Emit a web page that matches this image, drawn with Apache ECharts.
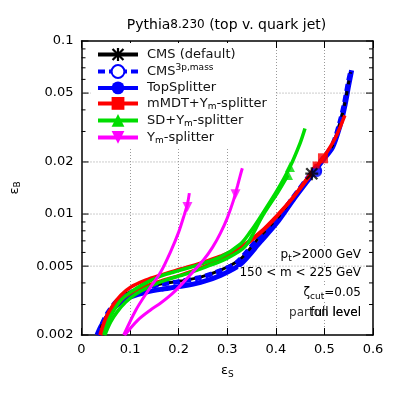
<!DOCTYPE html>
<html>
<head>
<meta charset="utf-8">
<script src="https://cdn.jsdelivr.net/npm/echarts@6.0.0/dist/echarts.min.js"></script>
<style>
html, body { margin: 0; padding: 0; background: #fff; }
#chart { width: 399px; height: 399px; }
</style>
</head>
<body>
<div id="chart"></div>
<script>
const FONT = 'DejaVu Sans'

// ROC curves (x = eps_S, y = eps_B)
const cmsX = [0.036, 0.044, 0.056, 0.071, 0.091, 0.122, 0.163, 0.204, 0.245, 0.286, 0.327, 0.368, 0.403, 0.436, 0.470, 0.495, 0.517, 0.532, 0.542, 0.550, 0.554]
const cmsY = [0.00200, 0.00234, 0.00271, 0.00310, 0.00345, 0.00368, 0.00394, 0.00410, 0.00432, 0.00474, 0.00549, 0.00746, 0.00947, 0.01252, 0.0168, 0.0207, 0.0250, 0.0335, 0.0437, 0.0577, 0.0660]
const cms3pX = [0.035, 0.043, 0.055, 0.070, 0.090, 0.120, 0.160, 0.200, 0.240, 0.280, 0.320, 0.360, 0.400, 0.435, 0.468, 0.494, 0.516, 0.531, 0.541, 0.549, 0.554]
const cms3pY = [0.00200, 0.00233, 0.00270, 0.00308, 0.00343, 0.00366, 0.00391, 0.00407, 0.00427, 0.00463, 0.00526, 0.00702, 0.00915, 0.01240, 0.0165, 0.0205, 0.0248, 0.0332, 0.0433, 0.0572, 0.0665]
const topX = [0.032, 0.040, 0.050, 0.060, 0.081, 0.101, 0.132, 0.163, 0.204, 0.245, 0.286, 0.327, 0.368, 0.403, 0.436, 0.470, 0.495, 0.517, 0.532, 0.542, 0.550, 0.556]
const topY = [0.00200, 0.00224, 0.00248, 0.00273, 0.00310, 0.00332, 0.00353, 0.00367, 0.00382, 0.00403, 0.00442, 0.00512, 0.00690, 0.00896, 0.01210, 0.01620, 0.0202, 0.0244, 0.0323, 0.0421, 0.0556, 0.0677]
const mmdtX = [0.038, 0.050, 0.065, 0.081, 0.101, 0.132, 0.163, 0.204, 0.245, 0.286, 0.327, 0.368, 0.403, 0.436, 0.470, 0.497, 0.522, 0.542]
const mmdtY = [0.00200, 0.00251, 0.00298, 0.00340, 0.00378, 0.00415, 0.00444, 0.00481, 0.00521, 0.00571, 0.00644, 0.00786, 0.00986, 0.01252, 0.0166, 0.0210, 0.0274, 0.0372]
const mmdt2X = [0.040, 0.054, 0.071, 0.091, 0.122, 0.163, 0.204, 0.245, 0.286, 0.327, 0.368, 0.403, 0.436, 0.466, 0.483]
const mmdt2Y = [0.00200, 0.00251, 0.00294, 0.00336, 0.00373, 0.00410, 0.00444, 0.00487, 0.00549, 0.00635, 0.00776, 0.00973, 0.01252, 0.0163, 0.0192]
const sdX = [0.046, 0.056, 0.067, 0.081, 0.101, 0.132, 0.163, 0.204, 0.245, 0.286, 0.327, 0.347, 0.368, 0.403, 0.429, 0.450, 0.460]
const sdY = [0.00200, 0.00244, 0.00279, 0.00318, 0.00354, 0.00399, 0.00438, 0.00474, 0.00514, 0.00564, 0.00670, 0.00786, 0.00960, 0.01374, 0.0187, 0.0257, 0.0312]
const sd2X = [0.048, 0.060, 0.073, 0.091, 0.112, 0.142, 0.173, 0.214, 0.255, 0.296, 0.337, 0.372, 0.405, 0.425]
const sd2Y = [0.00200, 0.00238, 0.00271, 0.00310, 0.00345, 0.00383, 0.00415, 0.00450, 0.00494, 0.00549, 0.00650, 0.00970, 0.01350, 0.0168]
const ymX = [0.087, 0.112, 0.138, 0.163, 0.183, 0.200, 0.212, 0.218, 0.222]
const ymY = [0.00200, 0.00279, 0.00364, 0.00462, 0.00603, 0.00786, 0.00999, 0.01141, 0.01321]
const ym2X = [0.089, 0.116, 0.142, 0.163, 0.188, 0.214, 0.251, 0.270, 0.286, 0.300, 0.313, 0.321, 0.327, 0.331]
const ym2Y = [0.00200, 0.00244, 0.00279, 0.00306, 0.00349, 0.00415, 0.00542, 0.00644, 0.00776, 0.00947, 0.01203, 0.01449, 0.0168, 0.0184]

// working points (markers)
const cmsMark = [[0.474, 0.0171]]
const cms3pMark = [[0.484, 0.0176]]
const topMark = [[0.485, 0.0179]]
const mmdtMark = [[0.497, 0.0210]]
const mmdt2Mark = [[0.483, 0.0192]]
const sdMark = [[0.429, 0.0187], [0.425, 0.0168]]
const ymMark = [[0.218, 0.0110], [0.317, 0.0130]]

const legendNames = ['CMS (default)', 'CMS3p,mass', 'TopSplitter', 'mMDT+Ym-splitter', 'SD+Ym-splitter', 'Ym-splitter']
const legendLabels = ['CMS (default)', 'CMS{sup|3p,mass}', 'TopSplitter', 'mMDT+Y{sub|m}-splitter', 'SD+Y{sub|m}-splitter', 'Y{sub|m}-splitter']

const xMin = 0, xMax = 0.6, xStep = 0.1
const yMin = 0.002, yMax = 0.1
const yMajorTicks = [0.002, 0.005, 0.01, 0.02, 0.05, 0.1]
const yTickLabels = ['0.002', '0.005', '0.01', '0.02', '0.05', '0.1']
const yMinorTicks = [0.003, 0.004, 0.006, 0.007, 0.008, 0.009, 0.03, 0.04, 0.06, 0.07, 0.08, 0.09]

const BLACK = '#000000', BLUE = '#0000ff', RED = '#ff0000', GREEN = '#00dd00', MAGENTA = '#ff00ff'
const STAR = 'path://M0,8.25H20V11.75H0Z M8.25,0H11.75V20H8.25Z M0.26,2.74L2.74,0.26L19.74,17.26L17.26,19.74Z M17.26,0.26L19.74,2.74L2.74,19.74L0.26,17.26Z'
const DOWN = 'path://M0,0L20,0L10,17Z'

const rich = {
	sub: { fontSize: 9, fontFamily: FONT, fontWeight: 'normal', color: '#000', padding: [7, 0, 0, 0], verticalAlign: 'bottom' },
	sup: { fontSize: 9, fontFamily: FONT, fontWeight: 'normal', color: '#000', padding: [0, 0, 7, 0], verticalAlign: 'top' }
}

function zip(xs, ys) {
	return xs.map((x, i) => [x, ys[i]])
}

function curve(name, xs, ys, color, symbol, width, dash) {
	return {
		type: 'line', name: name, data: zip(xs, ys),
		symbol: symbol, showSymbol: false,
		smooth: 0.3,
		lineStyle: { color: color, width: width, type: dash || 'solid' },
		itemStyle: { color: color },
		silent: true, z: 2
	}
}

function marks(name, data, color, symbol, size) {
	return {
		type: 'scatter', name: name, data: data,
		symbol: symbol, symbolSize: size,
		itemStyle: { color: color, borderWidth: symbol === 'emptyCircle' ? 2 : 0 },
		silent: true, z: 3
	}
}

// y ticks, labels and dotted grid lines for the log axis
const yTickData = yMajorTicks.map((v, i) => [xMin, v, 1, i]).concat(yMinorTicks.map(v => [xMin, v, 0, -1]))

function renderYTick(params, api) {
	const v = api.value(1)
	const major = api.value(2) === 1
	const a = api.coord([xMin, v])
	const b = api.coord([xMax, v])
	const len = major ? 7 : 4
	const children = [
		{ type: 'line', shape: { x1: a[0], y1: a[1], x2: a[0] + len, y2: a[1] }, style: { stroke: '#000', lineWidth: 1 } },
		{ type: 'line', shape: { x1: b[0] - len, y1: b[1], x2: b[0], y2: b[1] }, style: { stroke: '#000', lineWidth: 1 } }
	]
	if (major) {
		if (v > yMin && v < yMax) {
			children.push({ type: 'line', z2: -1, shape: { x1: a[0], y1: a[1], x2: b[0], y2: b[1] }, style: { stroke: '#999', lineWidth: 1, lineDash: [1, 2] } })
		}
		children.push({
			type: 'text',
			style: { x: a[0] - 8, y: a[1], text: yTickLabels[api.value(3)], align: 'right', verticalAlign: 'middle', fontSize: 13, fontFamily: FONT, fill: '#000' }
		})
	}
	return { type: 'group', children: children }
}

function note(text, y, extra) {
	return {
		type: 'text', z: 10,
		style: Object.assign({
			x: 362, y: y, text: text, align: 'right', verticalAlign: 'middle',
			fontSize: 12, fontFamily: FONT, fill: '#000',
			backgroundColor: '#fff', padding: [0, 1],
			rich: {
				sub: { fontSize: 9, fontFamily: FONT, fill: '#000', padding: [7, 0, 0, 0], verticalAlign: 'bottom' }
			}
		}, extra || {})
	}
}

const chart = echarts.init(document.getElementById('chart'))

chart.setOption({
	animation: false,
	grid: { left: 80, right: 26, top: 41, bottom: 64 },
	legend: {
		orient: 'vertical', left: 91, top: 43,
		padding: [5, 8, 3, 5],
		itemWidth: 40, itemHeight: 16, itemGap: 2.5,
		backgroundColor: '#fff',
		data: legendNames,
		selectedMode: false,
		lineStyle: { width: 4 },
		textStyle: { fontSize: 13, fontFamily: FONT, fontWeight: 'normal', color: '#111', textBorderWidth: 0, padding: [0, 0, 0, 4], rich: rich },
		formatter: name => legendLabels[legendNames.indexOf(name)]
	},
	graphic: [
		{
			type: 'text', z: 10,
			style: {
				x: 226.5, y: 25, text: 'Pythia{s|8.230} (top v. quark jet)', align: 'center', verticalAlign: 'middle',
				fontSize: 14, fontFamily: FONT, fill: '#000',
				rich: { s: { fontSize: 12, fontFamily: FONT, fill: '#000', verticalAlign: 'bottom', padding: [0, 0, 1, 0] } }
			}
		},
		note('p{sub|t}>2000 GeV', 255),
		note('150 < m < 225 GeV', 273),
		note('ζ{sub|cut}=0.05', 293),
		note('parton level', 313, { fill: '#333' }),
		note('full level', 313, { backgroundColor: null })
	],
	xAxis: [{
		type: 'value', min: xMin, max: xMax, interval: xStep, position: 'bottom',
		axisLine: { show: true, onZero: false, lineStyle: { color: '#000', width: 1.5 } },
		axisTick: { show: true, inside: true, length: 7, lineStyle: { color: '#000' } },
		axisLabel: { margin: 8, fontSize: 13, fontFamily: FONT, color: '#000' },
		splitLine: { show: true, showMinLine: false, showMaxLine: false, lineStyle: { color: '#999', type: [1, 2] } },
		name: 'ε{sub|S}', nameLocation: 'middle', nameGap: 28,
		nameTextStyle: { fontSize: 13, fontFamily: FONT, color: '#000', rich: rich }
	}, {
		type: 'value', min: xMin, max: xMax, interval: xStep, position: 'top',
		axisLine: { show: true, onZero: false, lineStyle: { color: '#000', width: 1.5 } },
		axisTick: { show: true, inside: true, length: 7, lineStyle: { color: '#000' } },
		axisLabel: { show: false },
		splitLine: { show: false }
	}],
	yAxis: [{
		type: 'log', logBase: 10, min: yMin, max: yMax, position: 'left',
		axisLine: { show: true, onZero: false, lineStyle: { color: '#000', width: 1.5 } },
		axisTick: { show: false }, axisLabel: { show: false }, splitLine: { show: false },
		name: 'ε{sub|B}', nameLocation: 'middle', nameGap: 59,
		nameTextStyle: { fontSize: 13, fontFamily: FONT, color: '#000', rich: rich }
	}, {
		type: 'log', logBase: 10, min: yMin, max: yMax, position: 'right',
		axisLine: { show: true, onZero: false, lineStyle: { color: '#000', width: 1.5 } },
		axisTick: { show: false }, axisLabel: { show: false }, splitLine: { show: false }
	}],
	series: [
		{
			type: 'custom', data: yTickData, encode: { x: 0, y: 1 },
			renderItem: renderYTick, silent: true, z: 1
		},
		curve('TopSplitter', topX, topY, BLUE, 'circle', 5),
		curve('CMS (default)', cmsX, cmsY, BLACK, STAR, 3),
		curve('CMS3p,mass', cms3pX, cms3pY, BLUE, 'emptyCircle', 5, [7, 4]),
		curve('mMDT+Ym-splitter', mmdtX, mmdtY, RED, 'rect', 3.5),
		curve('mMDT+Ym-splitter', mmdt2X, mmdt2Y, RED, 'rect', 3.5),
		curve('SD+Ym-splitter', sdX, sdY, GREEN, 'triangle', 3.5),
		curve('SD+Ym-splitter', sd2X, sd2Y, GREEN, 'triangle', 3.5),
		curve('Ym-splitter', ymX, ymY, MAGENTA, DOWN, 3),
		curve('Ym-splitter', ym2X, ym2Y, MAGENTA, DOWN, 3),
		marks('CMS3p,mass', cms3pMark, BLUE, 'emptyCircle', 9),
		marks('TopSplitter', topMark, BLUE, 'circle', 10),
		marks('mMDT+Ym-splitter', mmdt2Mark, RED, 'rect', 7),
		marks('mMDT+Ym-splitter', mmdtMark, RED, 'rect', 10),
		marks('CMS (default)', cmsMark, BLACK, STAR, 13),
		marks('SD+Ym-splitter', sdMark, GREEN, 'triangle', 10),
		marks('Ym-splitter', ymMark, MAGENTA, DOWN, 10)
	]
})
</script>
</body>
</html>
